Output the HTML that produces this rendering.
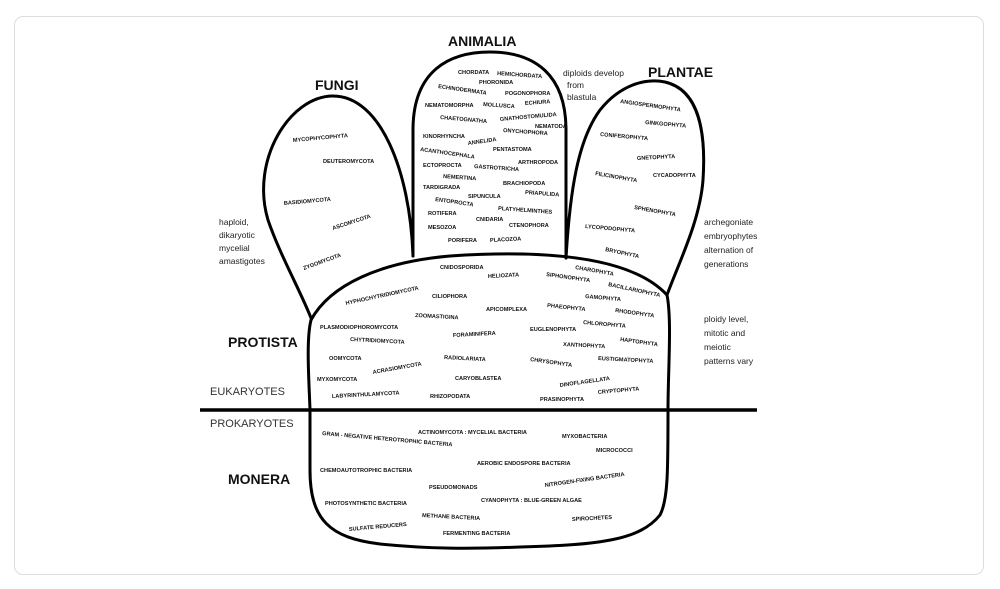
<!DOCTYPE html>
<html><head><meta charset="utf-8"><style>
html,body{margin:0;padding:0;background:#fff;}
.card{position:absolute;left:14px;top:16px;width:970px;height:559px;border:1px solid #ddd;border-radius:9px;box-sizing:border-box;}
svg{position:absolute;left:0;top:0;}
.s{font-family:"Liberation Sans",sans-serif;font-size:5.6px;font-weight:bold;fill:#111;}
.h{font-family:"Liberation Sans",sans-serif;font-size:14px;font-weight:bold;fill:#111;}
.n{font-family:"Liberation Sans",sans-serif;font-size:8.5px;fill:#222;}
.e{font-family:"Liberation Sans",sans-serif;font-size:11px;fill:#333;}
</style></head><body>
<div class="card"></div>
<svg width="1000" height="589" viewBox="0 0 1000 589">
<g fill="none" stroke="#000" stroke-width="3" stroke-linecap="round">
<path d="M311,318 C300,290 280,255 268,220 C250,160 290,96 333,96 C380,96 410,170 413,256"/>
<path d="M413,256 L413,130 C413,70 450,52 490,52 C535,52 566,75 566,130 L566,258"/>
<path d="M566,258 C570,190 578,140 600,110 C620,85 645,78 665,82 C700,90 706,135 703,180 C700,220 680,260 667,295"/>
<path d="M311,320 C330,285 380,262 450,256 C540,250 630,255 667,295"/>
<path d="M311,320 C306,340 309,380 310,410 L310,470 C310,520 330,538 380,544 C430,549 470,549 520,547 C600,545 640,540 660,515 C668,500 668,470 668,410 C668,370 672,320 667,295"/>
</g>
<line x1="200" y1="410" x2="757" y2="410" stroke="#000" stroke-width="3.5"/>
<text class="h" x="315" y="90">FUNGI</text>
<text class="h" x="448" y="46">ANIMALIA</text>
<text class="h" x="648" y="77">PLANTAE</text>
<text class="h" x="228" y="347">PROTISTA</text>
<text class="h" x="228" y="484">MONERA</text>
<text class="e" x="210" y="395">EUKARYOTES</text>
<text class="e" x="210" y="427">PROKARYOTES</text>
<text class="n" x="563" y="76">diploids develop</text>
<text class="n" x="567" y="88">from</text>
<text class="n" x="567" y="100">blastula</text>
<text class="n" x="219" y="225">haploid,</text>
<text class="n" x="219" y="238">dikaryotic</text>
<text class="n" x="219" y="251">mycelial</text>
<text class="n" x="219" y="264">amastigotes</text>
<text class="n" x="704" y="225">archegoniate</text>
<text class="n" x="704" y="239">embryophytes</text>
<text class="n" x="704" y="253">alternation of</text>
<text class="n" x="704" y="267">generations</text>
<text class="n" x="704" y="322">ploidy level,</text>
<text class="n" x="704" y="336">mitotic and</text>
<text class="n" x="704" y="350">meiotic</text>
<text class="n" x="704" y="364">patterns vary</text>
<g class="s">
<text x="293" y="142" transform="rotate(-5 293 142)">MYCOPHYCOPHYTA</text>
<text x="323" y="163">DEUTEROMYCOTA</text>
<text x="284" y="205" transform="rotate(-5 284 205)">BASIDIOMYCOTA</text>
<text x="333" y="230" transform="rotate(-18 333 230)">ASCOMYCOTA</text>
<text x="304" y="270" transform="rotate(-20 304 270)">ZYGOMYCOTA</text>

<text x="458" y="74">CHORDATA</text>
<text x="497" y="75" transform="rotate(4 497 75)">HEMICHORDATA</text>
<text x="479" y="84">PHORONIDA</text>
<text x="438" y="88" transform="rotate(8 438 88)">ECHINODERMATA</text>
<text x="505" y="95">POGONOPHORA</text>
<text x="425" y="107">NEMATOMORPHA</text>
<text x="483" y="106" transform="rotate(4 483 106)">MOLLUSCA</text>
<text x="525" y="105" transform="rotate(-4 525 105)">ECHIURA</text>
<text x="440" y="119" transform="rotate(5 440 119)">CHAETOGNATHA</text>
<text x="500" y="121" transform="rotate(-5 500 121)">GNATHOSTOMULIDA</text>
<text x="535" y="128">NEMATODA</text>
<text x="503" y="132" transform="rotate(4 503 132)">ONYCHOPHORA</text>
<text x="423" y="138">KINORHYNCHA</text>
<text x="468" y="145" transform="rotate(-8 468 145)">ANNELIDA</text>
<text x="493" y="151">PENTASTOMA</text>
<text x="420" y="151" transform="rotate(8 420 151)">ACANTHOCEPHALA</text>
<text x="518" y="164">ARTHROPODA</text>
<text x="423" y="167">ECTOPROCTA</text>
<text x="474" y="168" transform="rotate(4 474 168)">GASTROTRICHA</text>
<text x="443" y="178" transform="rotate(4 443 178)">NEMERTINA</text>
<text x="503" y="185">BRACHIOPODA</text>
<text x="423" y="189">TARDIGRADA</text>
<text x="525" y="194" transform="rotate(4 525 194)">PRIAPULIDA</text>
<text x="468" y="198">SIPUNCULA</text>
<text x="435" y="201" transform="rotate(8 435 201)">ENTOPROCTA</text>
<text x="498" y="210" transform="rotate(4 498 210)">PLATYHELMINTHES</text>
<text x="428" y="215">ROTIFERA</text>
<text x="476" y="221">CNIDARIA</text>
<text x="509" y="227">CTENOPHORA</text>
<text x="428" y="229">MESOZOA</text>
<text x="448" y="242">PORIFERA</text>
<text x="490" y="242" transform="rotate(-3 490 242)">PLACOZOA</text>

<text x="620" y="103" transform="rotate(8 620 103)">ANGIOSPERMOPHYTA</text>
<text x="645" y="124" transform="rotate(5 645 124)">GINKGOPHYTA</text>
<text x="600" y="136" transform="rotate(5 600 136)">CONIFEROPHYTA</text>
<text x="637" y="160" transform="rotate(-3 637 160)">GNETOPHYTA</text>
<text x="595" y="175" transform="rotate(10 595 175)">FILICINOPHYTA</text>
<text x="653" y="177">CYCADOPHYTA</text>
<text x="634" y="209" transform="rotate(10 634 209)">SPHENOPHYTA</text>
<text x="585" y="228" transform="rotate(5 585 228)">LYCOPODOPHYTA</text>
<text x="605" y="251" transform="rotate(12 605 251)">BRYOPHYTA</text>

<text x="440" y="269">CNIDOSPORIDA</text>
<text x="488" y="278" transform="rotate(-3 488 278)">HELIOZATA</text>
<text x="546" y="276" transform="rotate(8 546 276)">SIPHONOPHYTA</text>
<text x="575" y="269" transform="rotate(10 575 269)">CHAROPHYTA</text>
<text x="608" y="286" transform="rotate(12 608 286)">BACILLARIOPHYTA</text>
<text x="346" y="305" transform="rotate(-12 346 305)">HYPHOCHYTRIDIOMYCOTA</text>
<text x="432" y="298">CILIOPHORA</text>
<text x="585" y="298" transform="rotate(5 585 298)">GAMOPHYTA</text>
<text x="486" y="311">APICOMPLEXA</text>
<text x="547" y="307" transform="rotate(6 547 307)">PHAEOPHYTA</text>
<text x="615" y="312" transform="rotate(8 615 312)">RHODOPHYTA</text>
<text x="415" y="317" transform="rotate(3 415 317)">ZOOMASTIGINA</text>
<text x="320" y="329">PLASMODIOPHOROMYCOTA</text>
<text x="453" y="337" transform="rotate(-3 453 337)">FORAMINIFERA</text>
<text x="530" y="331">EUGLENOPHYTA</text>
<text x="583" y="324" transform="rotate(5 583 324)">CHLOROPHYTA</text>
<text x="350" y="341" transform="rotate(3 350 341)">CHYTRIDIOMYCOTA</text>
<text x="620" y="341" transform="rotate(8 620 341)">HAPTOPHYTA</text>
<text x="563" y="346" transform="rotate(3 563 346)">XANTHOPHYTA</text>
<text x="329" y="360">OOMYCOTA</text>
<text x="444" y="359" transform="rotate(3 444 359)">RADIOLARIATA</text>
<text x="530" y="361" transform="rotate(8 530 361)">CHRYSOPHYTA</text>
<text x="598" y="360" transform="rotate(3 598 360)">EUSTIGMATOPHYTA</text>
<text x="373" y="374" transform="rotate(-10 373 374)">ACRASIOMYCOTA</text>
<text x="317" y="381">MYXOMYCOTA</text>
<text x="455" y="380">CARYOBLASTEA</text>
<text x="560" y="387" transform="rotate(-8 560 387)">DINOFLAGELLATA</text>
<text x="332" y="398" transform="rotate(-3 332 398)">LABYRINTHULAMYCOTA</text>
<text x="430" y="398">RHIZOPODATA</text>
<text x="598" y="394" transform="rotate(-5 598 394)">CRYPTOPHYTA</text>
<text x="540" y="401">PRASINOPHYTA</text>

<text x="322" y="435" transform="rotate(5 322 435)">GRAM - NEGATIVE HETEROTROPHIC BACTERIA</text>
<text x="418" y="434">ACTINOMYCOTA : MYCELIAL BACTERIA</text>
<text x="562" y="438">MYXOBACTERIA</text>
<text x="596" y="452">MICROCOCCI</text>
<text x="477" y="465">AEROBIC ENDOSPORE BACTERIA</text>
<text x="320" y="472">CHEMOAUTOTROPHIC BACTERIA</text>
<text x="545" y="487" transform="rotate(-8 545 487)">NITROGEN-FIXING BACTERIA</text>
<text x="429" y="489">PSEUDOMONADS</text>
<text x="481" y="502">CYANOPHYTA : BLUE-GREEN ALGAE</text>
<text x="325" y="505">PHOTOSYNTHETIC BACTERIA</text>
<text x="422" y="517" transform="rotate(3 422 517)">METHANE BACTERIA</text>
<text x="349" y="531" transform="rotate(-5 349 531)">SULFATE REDUCERS</text>
<text x="572" y="521" transform="rotate(-3 572 521)">SPIROCHETES</text>
<text x="443" y="535">FERMENTING BACTERIA</text>
</g>
</svg>
</body></html>
